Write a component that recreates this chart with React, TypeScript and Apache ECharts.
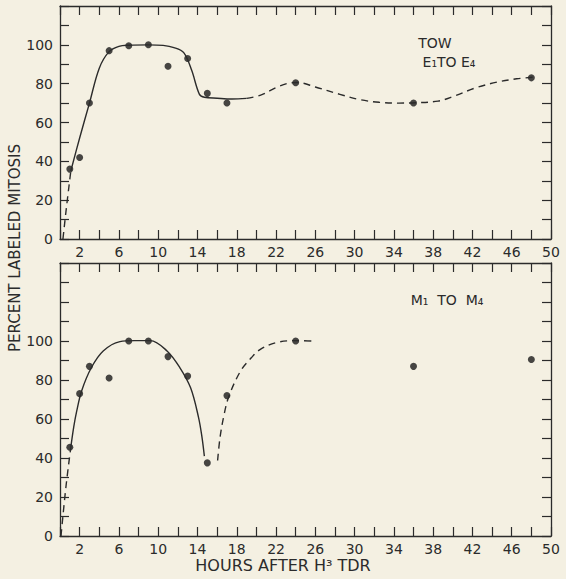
import React, { useEffect, useRef } from "react";
import * as echarts from "echarts";

// Sampling times (hours after H3-TdR) and percent labeled mitoses
const hours = [1, 2, 3, 5, 7, 9, 11, 13, 15, 17, 24, 36, 48];
const towPct = [36, 42, 70, 97, 99.5, 100, 89, 93, 75, 70, 80.5, 70, 83];
const mPct = [45.5, 73, 87, 81, 100, 100, 92, 82, 37.5, 72, 100, 87, 90.5];

// Hand-fitted curves through the points: [hour, percent]
const towLead = [[0.3, 0], [0.65, 16], [1.1, 35]];
const towSolid = [
  [1.1, 35], [2, 52], [3, 70], [4, 88], [5, 96.5], [6, 99.2], [7, 99.8], [9, 100],
  [10.5, 99.7], [11.6, 98.6], [12.6, 96], [13.4, 87], [14.2, 74.5], [14.7, 73],
  [16, 72.5], [17.5, 72.1], [19, 72.4],
];
const towDashed = [
  [19, 72.4], [20.5, 74.2], [22, 78], [23.2, 80.2], [24.2, 80.6], [26, 78.3],
  [28.5, 74.5], [30.5, 71.8], [32.5, 70.4], [34.5, 70], [36.2, 70.2], [38.5, 71],
  [40, 73.3], [42.3, 77.8], [44.5, 80.8], [46.5, 82.5], [48.2, 83.3],
];
const mLead = [[0.1, 0], [0.6, 25], [1.1, 45.5]];
const mSolid = [
  [1.1, 45.5], [1.4, 56], [1.7, 64], [2.2, 74.4], [3.2, 86.4], [4.4, 94.9], [6.1, 99.7],
  [7.6, 100.2], [9.2, 100.2], [10.9, 94.9], [12.2, 86.4], [13.3, 76], [14.1, 61],
  [14.45, 51], [14.7, 41],
];
const mDashed = [
  [16.05, 38.7], [16.3, 50.6], [16.7, 62], [17.2, 71.7], [18.4, 84.7], [19.5, 91.5],
  [20.4, 95.7], [22.1, 99.3], [24.25, 100.2], [25.6, 100],
];

const xTickStep = 2;
const yTickStep = 10;

const INK = "#2b2b2b";
const PAPER = "#f4f0e2";
const FONT = "DejaVu Sans";

export default function App() {
  const ref = useRef<HTMLDivElement>(null);

  useEffect(() => {
    if (!ref.current) return;
    const chart = echarts.init(ref.current, undefined, { renderer: "svg" });

    const axisLine = { show: true, onZero: false, lineStyle: { color: INK, width: 1.3 } };
    const tick = { show: true, inside: true, length: 9, lineStyle: { color: INK, width: 1.2 } };

    const xPair = (gridIndex: number) => [
      {
        type: "value", gridIndex, position: "bottom", min: 0, max: 50, interval: xTickStep,
        axisLine, axisTick: tick, splitLine: { show: false },
        axisLabel: {
          color: INK, fontFamily: FONT, fontSize: 14, margin: 6,
          formatter: (v: number) => (v % 4 === 2 ? String(v) : ""),
        },
      },
      {
        type: "value", gridIndex, position: "top", min: 0, max: 50, interval: xTickStep,
        axisLine, axisTick: tick, splitLine: { show: false }, axisLabel: { show: false },
      },
    ];
    const yPair = (gridIndex: number, max: number) => [
      {
        type: "value", gridIndex, position: "left", min: 0, max, interval: yTickStep,
        axisLine, axisTick: tick, splitLine: { show: false },
        axisLabel: {
          color: INK, fontFamily: FONT, fontSize: 14, margin: 7,
          formatter: (v: number) => (v % 20 === 0 && v <= 100 ? String(v) : ""),
        },
      },
      {
        type: "value", gridIndex, position: "right", min: 0, max, interval: yTickStep,
        axisLine, axisTick: tick, splitLine: { show: false }, axisLabel: { show: false },
      },
    ];

    const curve = (data: number[][], xi: number, yi: number, dashed: boolean) => ({
      type: "line", xAxisIndex: xi, yAxisIndex: yi, data, smooth: 0.35,
      showSymbol: false, silent: true,
      lineStyle: { color: INK, width: 1.4, type: dashed ? [7, 5] : "solid" },
    });
    const dots = (ys: number[], xi: number, yi: number) => ({
      type: "scatter", xAxisIndex: xi, yAxisIndex: yi,
      data: hours.map((h, i) => [h, ys[i]]),
      symbol: "circle", symbolSize: 7, itemStyle: { color: "#1a1a1a" },
    });

    chart.setOption({
      animation: false,
      backgroundColor: PAPER,
      grid: [
        { left: 60, top: 6, width: 491, height: 233 },
        { left: 60, top: 263, width: 491, height: 273 },
      ],
      xAxis: [...xPair(0), ...xPair(1)],
      yAxis: [...yPair(0, 120), ...yPair(1, 140)],
      series: [
        curve(towLead, 0, 0, true),
        curve(towSolid, 0, 0, false),
        curve(towDashed, 0, 0, true),
        dots(towPct, 0, 0),
        curve(mLead, 2, 2, true),
        curve(mSolid, 2, 2, false),
        curve(mDashed, 2, 2, true),
        dots(mPct, 2, 2),
      ],
      graphic: [
        {
          type: "text", x: 435, y: 43,
          style: { text: "TOW", fill: INK, font: `14px "${FONT}"`, align: "center", verticalAlign: "middle" },
        },
        {
          type: "text", x: 449, y: 62,
          style: { text: "E₁TO E₄", fill: INK, font: `14px "${FONT}"`, align: "center", verticalAlign: "middle" },
        },
        {
          type: "text", x: 447, y: 300,
          style: { text: "M₁  TO  M₄", fill: INK, font: `14px "${FONT}"`, align: "center", verticalAlign: "middle" },
        },
        {
          type: "text", x: 283, y: 565,
          style: { text: "HOURS AFTER H³ TDR", fill: INK, font: `16px "${FONT}"`, align: "center", verticalAlign: "middle" },
        },
        {
          type: "text", x: 15, y: 248, rotation: Math.PI / 2,
          style: { text: "PERCENT LABELED MITOSIS", fill: INK, font: `15px "${FONT}"`, align: "center", verticalAlign: "middle" },
        },
      ],
    });

    return () => chart.dispose();
  }, []);

  return (
    <div
      ref={ref}
      style={{ position: "absolute", left: 0, top: 0, width: 566, height: 579, background: PAPER }}
    />
  );
}
